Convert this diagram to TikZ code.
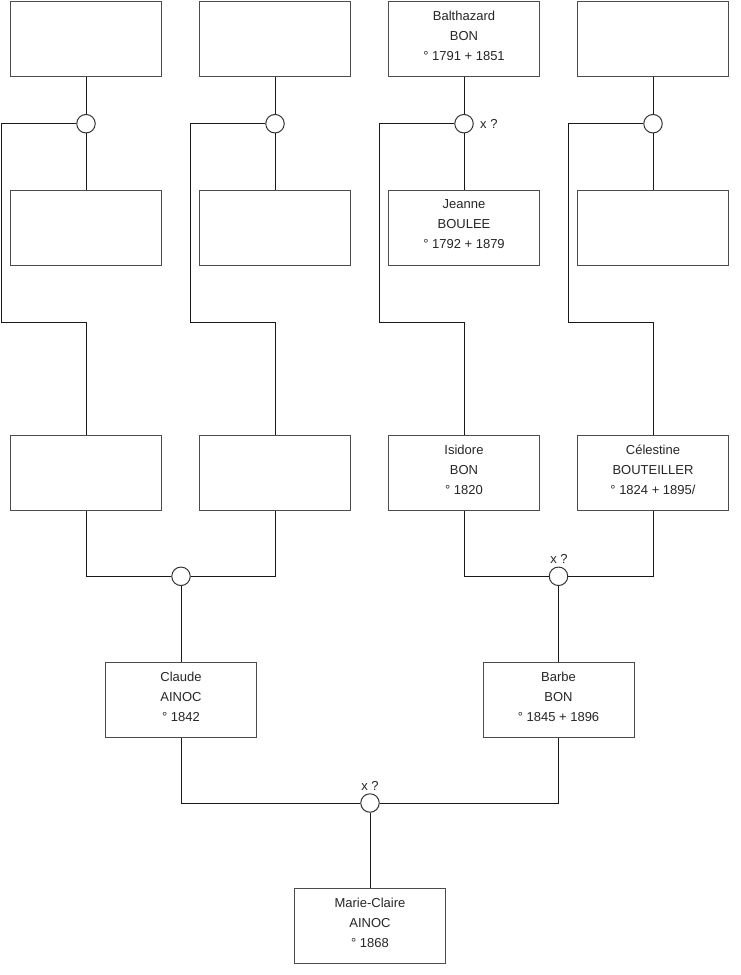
\documentclass[tikz,border=0pt]{standalone}
\usepackage{fontspec}
\setmainfont{Liberation Sans}
\begin{document}
\begin{tikzpicture}[x=1pt,y=-1pt,
  person/.style={draw=black!70, line width=1pt, minimum width=151pt, minimum height=75pt, inner sep=0pt},
  txt/.style={align=center, font=\fontsize{13}{20}\selectfont, text=black!85, inner sep=0pt},
  union/.style={circle, draw=black!80, line width=1pt, fill=white, minimum size=18.5pt, inner sep=0pt},
  link/.style={line width=1pt, draw=black!90},
  lbl/.style={font=\fontsize{13}{15}\selectfont, inner sep=0pt, text=black!85}]
\useasboundingbox (0,0) rectangle (740,975);
\fill[white] (0,0) rectangle (740,975);

% row 1
\node[person] (a1) at (86,38.5) {};
\node[person] (a2) at (275,38.5) {};
\node[person] (a3) at (464,38.5) {};
\node[person] (a4) at (653,38.5) {};
% row 2
\node[person] (w1) at (86,227.5) {};
\node[person] (w2) at (275,227.5) {};
\node[person] (w3) at (464,227.5) {};
\node[person] (w4) at (653,227.5) {};
% row 3
\node[person] (p1) at (86,473) {};
\node[person] (p2) at (275,473) {};
\node[person] (p3) at (464,473) {};
\node[person] (p4) at (653,473) {};
% row 4
\node[person] (claude) at (181,699.5) {};
\node[person] (barbe) at (558.5,699.5) {};
% row 5
\node[person] (marie) at (370,926) {};

% texts
\node[txt] (ta3) at ([yshift=3pt]a3.center) {Balthazard\\BON\\° 1791 + 1851};
\node[txt] (tw3) at ([yshift=3pt]w3.center) {Jeanne\\BOULEE\\° 1792 + 1879};
\node[txt] (tp3) at ([yshift=3pt]p3.center) {Isidore\\BON\\° 1820};
\node[txt] (tp4) at ([yshift=3pt]p4.center) {Célestine\\BOUTEILLER\\° 1824 + 1895/};
\node[txt] (tcl) at ([yshift=3pt]claude.center) {Claude\\AINOC\\° 1842};
\node[txt] (tba) at ([yshift=3pt]barbe.center) {Barbe\\BON\\° 1845 + 1896};
\node[txt] (tma) at ([yshift=3pt]marie.center) {Marie-Claire\\AINOC\\° 1868};

% unions
\node[union] (u1) at (86,123.7) {};
\node[union] (u2) at (275,123.7) {};
\node[union] (u3) at (464,123.7) {};
\node[union] (u4) at (653,123.7) {};
\node[union] (m1) at (181,576.3) {};
\node[union] (m2) at (558.5,576.3) {};
\node[union] (m3) at (370,803) {};

\node[lbl, anchor=west] (l3) at (480,124) {x ?};
\node[lbl] (lm2) at (559,559) {x ?};
\node[lbl] (lm3) at (370,786) {x ?};

% couple links (top)
\foreach \i/\lx in {1/1.5,2/190.5,3/379.5,4/568.5}{
  \draw[link] (a\i.south) -- (u\i.north);
  \draw[link] (u\i.south) -- (w\i.north);
  \draw[link] (u\i.west) -- (\lx,123.7) -- (\lx,322) -| (p\i.north);
}
% middle unions
\draw[link] (p1.south) |- (m1.west);
\draw[link] (p2.south) |- (m1.east);
\draw[link] (m1.south) -- (claude.north);
\draw[link] (p3.south) |- (m2.west);
\draw[link] (p4.south) |- (m2.east);
\draw[link] (m2.south) -- (barbe.north);
% bottom union
\draw[link] (claude.south) |- (m3.west);
\draw[link] (barbe.south) |- (m3.east);
\draw[link] (m3.south) -- (marie.north);
\end{tikzpicture}
\end{document}
